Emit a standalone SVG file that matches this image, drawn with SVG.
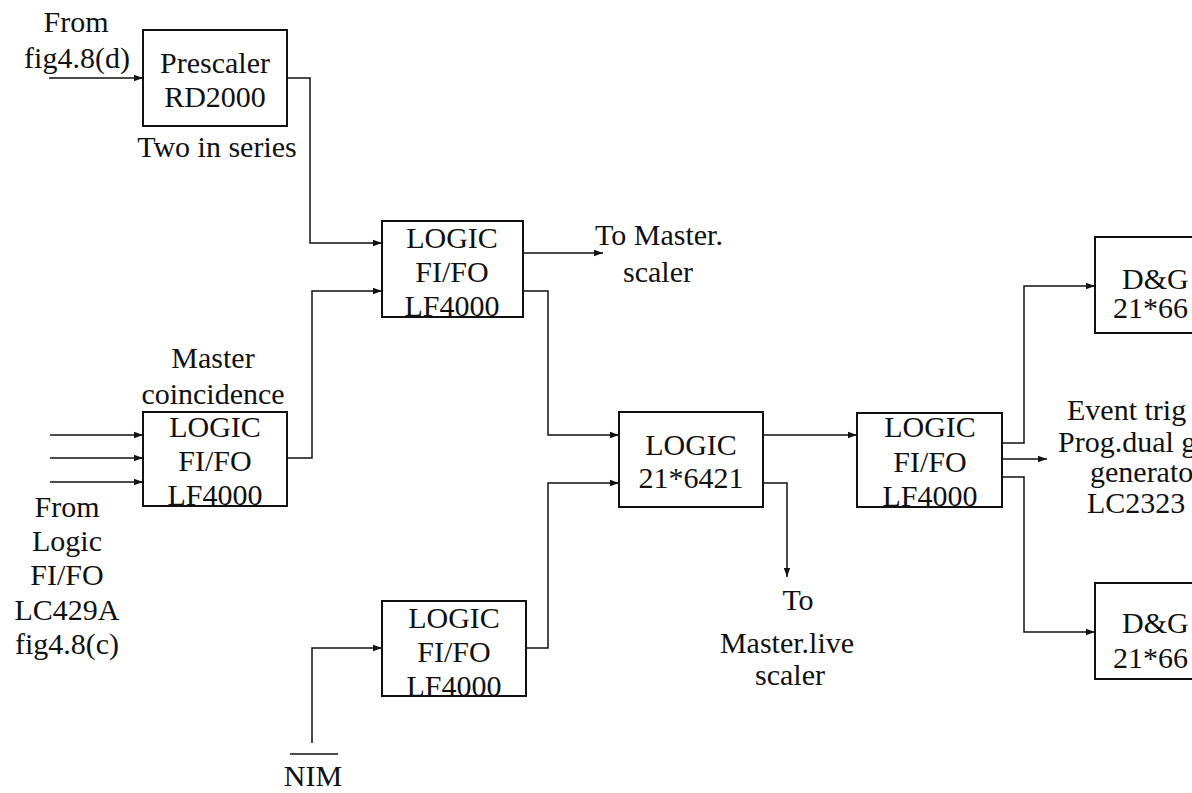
<svg xmlns="http://www.w3.org/2000/svg" width="1192" height="793" viewBox="0 0 1192 793">
<style>
.box{fill:#fff;stroke:#111;stroke-width:2}
.t{font-family:"Liberation Serif","Times New Roman",serif;font-size:30px;fill:#111}
.m{text-anchor:middle}
.c{fill:none;stroke:#111;stroke-width:1.5}
</style>
<defs>
<marker id="ah" markerUnits="userSpaceOnUse" markerWidth="10" markerHeight="8" refX="9" refY="4" orient="auto">
<path d="M0,0.8 L9,4 L0,7.2 Z" fill="#111"/>
</marker>
</defs>
<rect width="1192" height="793" fill="#fff"/>
<g id="connectors">
<path class="c" d="M49,78 H143" marker-end="url(#ah)"/>
<path class="c" d="M287,78 H310 V243 H382" marker-end="url(#ah)"/>
<path class="c" d="M287,458 H312 V291 H382" marker-end="url(#ah)"/>
<path class="c" d="M50,435 H143" marker-end="url(#ah)"/>
<path class="c" d="M50,458 H143" marker-end="url(#ah)"/>
<path class="c" d="M50,482 H143" marker-end="url(#ah)"/>
<path class="c" d="M523,253 H603" marker-end="url(#ah)"/>
<path class="c" d="M523,291 H548 V435 H619" marker-end="url(#ah)"/>
<path class="c" d="M312,743 V648 H382" marker-end="url(#ah)"/>
<path class="c" d="M526,648 H548 V483 H619" marker-end="url(#ah)"/>
<path class="c" d="M763,435 H857" marker-end="url(#ah)"/>
<path class="c" d="M763,483 H787 V577" marker-end="url(#ah)"/>
<path class="c" d="M1002,443 H1024 V286 H1095" marker-end="url(#ah)"/>
<path class="c" d="M1002,459 H1047" marker-end="url(#ah)"/>
<path class="c" d="M1002,477 H1024 V632 H1095" marker-end="url(#ah)"/>
</g>
<g id="prescaler">
<rect class="box" x="143" y="30" width="144" height="96"/>
<text class="t m" x="215" y="73">Prescaler</text>
<text class="t m" x="215" y="107">RD2000</text>
</g>
<g id="prescaler-notes">
<text class="t m" x="217" y="157">Two in series</text>
<text class="t m" x="76" y="32">From</text>
<text class="t m" x="77" y="68">fig4.8(d)</text>
</g>
<g id="fifo1">
<rect class="box" x="382" y="221" width="141" height="96"/>
<text class="t m" x="452" y="248">LOGIC</text>
<text class="t m" x="452" y="282">FI/FO</text>
<text class="t m" x="452" y="316">LF4000</text>
</g>
<g id="to-master-scaler">
<text class="t" x="595" y="245">To Master.</text>
<text class="t m" x="658" y="282">scaler</text>
</g>
<g id="coincidence">
<text class="t m" x="213" y="368">Master</text>
<text class="t m" x="213" y="404">coincidence</text>
<rect class="box" x="143" y="412" width="144" height="94"/>
<text class="t m" x="215" y="437">LOGIC</text>
<text class="t m" x="215" y="471">FI/FO</text>
<text class="t m" x="215" y="505">LF4000</text>
</g>
<g id="from-logic">
<text class="t m" x="67" y="517">From</text>
<text class="t m" x="67" y="551">Logic</text>
<text class="t m" x="67" y="585">FI/FO</text>
<text class="t m" x="67" y="620">LC429A</text>
<text class="t m" x="67" y="654">fig4.8(c)</text>
</g>
<g id="fifo-nim">
<rect class="box" x="382" y="601" width="144" height="95"/>
<text class="t m" x="454" y="628">LOGIC</text>
<text class="t m" x="454" y="662">FI/FO</text>
<text class="t m" x="454" y="696">LF4000</text>
</g>
<g id="nim">
<line x1="290" y1="754" x2="338" y2="754" stroke="#111" stroke-width="1.5"/>
<text class="t m" x="313" y="786">NIM</text>
</g>
<g id="logic6421">
<rect class="box" x="619" y="412" width="144" height="95"/>
<text class="t m" x="691" y="455">LOGIC</text>
<text class="t m" x="691" y="488">21*6421</text>
</g>
<g id="to-live-scaler">
<text class="t m" x="798" y="610">To</text>
<text class="t m" x="787" y="653">Master.live</text>
<text class="t m" x="790" y="685">scaler</text>
</g>
<g id="fifo4">
<rect class="box" x="857" y="413" width="145" height="94"/>
<text class="t m" x="930" y="437">LOGIC</text>
<text class="t m" x="930" y="472">FI/FO</text>
<text class="t m" x="930" y="506">LF4000</text>
</g>
<g id="dg1">
<rect class="box" x="1095" y="237" width="130" height="96"/>
<text class="t" x="1122" y="289">D&amp;G</text>
<text class="t" x="1113" y="318">21*66</text>
</g>
<g id="event-trigger">
<text class="t" x="1067" y="420">Event trig</text>
<text class="t" x="1058" y="452">Prog.dual g</text>
<text class="t" x="1090" y="482">generato</text>
<text class="t" x="1087" y="513">LC2323</text>
</g>
<g id="dg2">
<rect class="box" x="1095" y="583" width="130" height="96"/>
<text class="t" x="1122" y="633">D&amp;G</text>
<text class="t" x="1113" y="668">21*66</text>
</g>
</svg>
